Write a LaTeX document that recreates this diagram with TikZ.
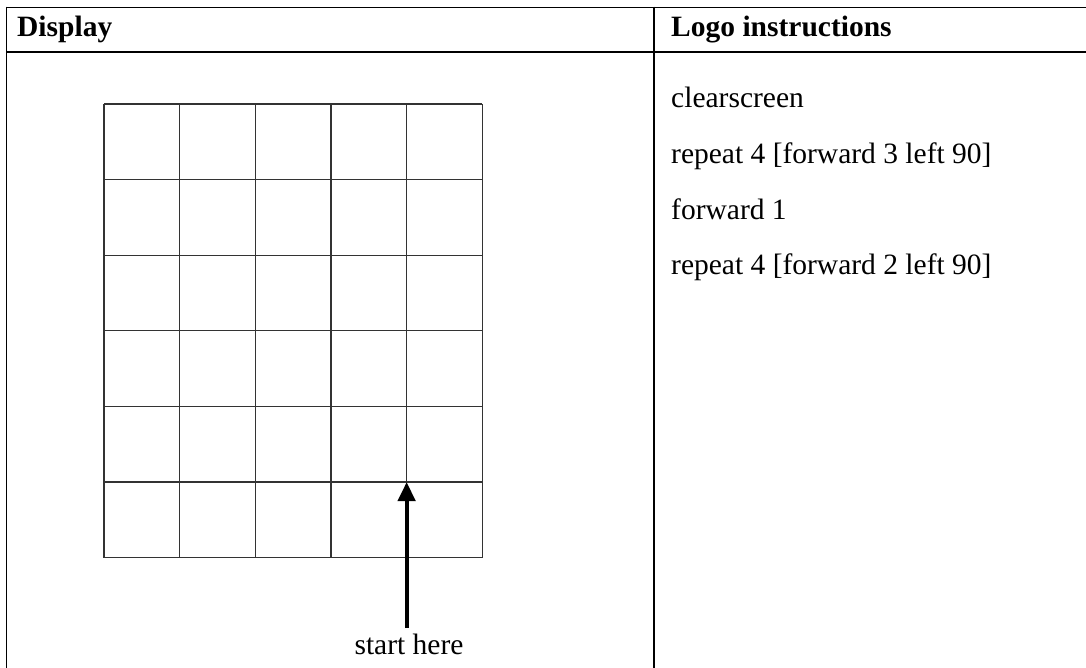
\documentclass[tikz,border=0pt]{standalone}
\usepackage{fontspec}
\setmainfont{Liberation Serif}
\usetikzlibrary{arrows.meta}
\begin{document}
\begin{tikzpicture}[x=1pt,y=-1pt,
  rule/.style={line width=1.6pt,black},
  gridline/.style={line width=1.1pt,black!80},
  txt/.style={anchor=base west,inner sep=0pt,font=\fontsize{29.5}{34}\selectfont},
  head/.style={txt,font=\fontsize{29.5}{34}\selectfont\bfseries},
  pointer/.style={line width=4.2pt,-{Triangle[width=17pt,length=19pt]}}]
\useasboundingbox (0,0) rectangle (1086,668);
% table rules
\draw[rule] (6.5,7.5) -- (1086,7.5);
\draw[rule] (6.5,52) -- (1086,52);
\draw[rule] (6.5,6.7) -- (6.5,668);
\draw[rule] (654,6.7) -- (654,668);
% headers
\node[head] (hdisp) at (17,37) {Display};
\node[head] (hlogo) at (671,37) {Logo instructions};
% grid
\foreach \i in {0,...,5} {
  \draw[gridline] ({104+75.66*\i},104) -- ({104+75.66*\i},557.6);
}
\foreach \j in {0,...,6} {
  \draw[gridline] (104,{104+75.6*\j}) -- (482.3,{104+75.6*\j});
}
\coordinate (tip) at (406.64,482);
\coordinate (tail) at (406.64,628);
\draw[pointer] (tail) -- (tip);
\node[txt,anchor=base] (start) at (409,654) {start here};
% instructions
\node[txt] (l1) at (671,107.5) {clearscreen};
\node[txt] (l2) at (671,163.3) {repeat 4 [forward 3 left 90]};
\node[txt] (l3) at (671,219.1) {forward 1};
\node[txt] (l4) at (671,274.9) {repeat 4 [forward 2 left 90]};
\end{tikzpicture}
\end{document}
